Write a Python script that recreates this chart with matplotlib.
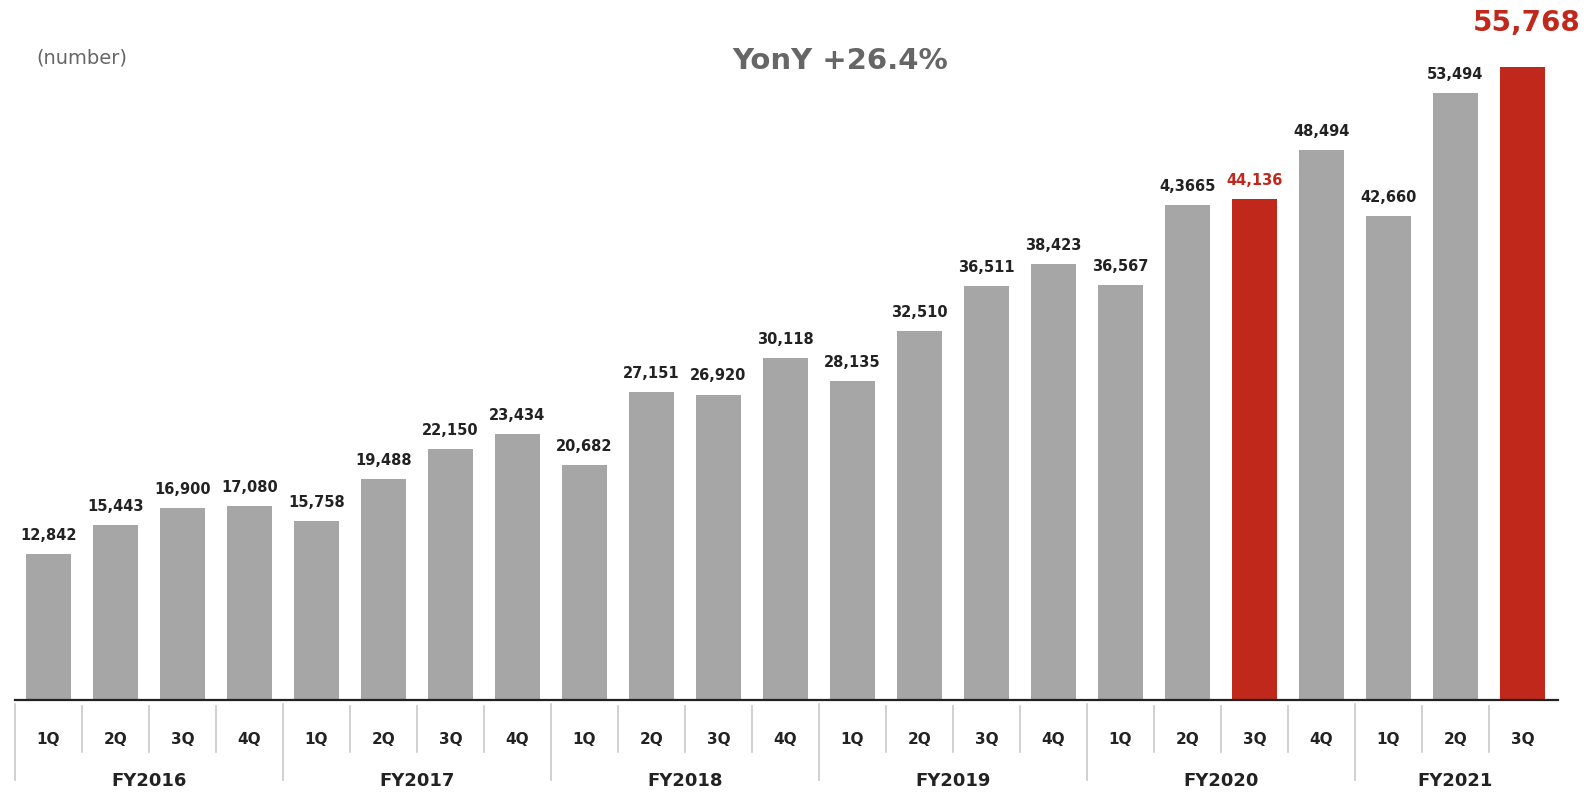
import matplotlib
matplotlib.use("Agg")
import matplotlib.pyplot as plt
import matplotlib.transforms as mtransforms

plt.rcParams['font.family'] = ['DejaVu Sans']

years = ["FY2016", "FY2017", "FY2018", "FY2019", "FY2020", "FY2021"]
quarters_per_year = [4, 4, 4, 4, 4, 3]
quarter_labels = ["1Q", "2Q", "3Q", "4Q"] * 5 + ["1Q", "2Q", "3Q"]
values = [12842, 15443, 16900, 17080,
          15758, 19488, 22150, 23434,
          20682, 27151, 26920, 30118,
          28135, 32510, 36511, 38423,
          36567, 43665, 44136, 48494,
          42660, 53494, 55768]
value_labels = ["12,842", "15,443", "16,900", "17,080",
                "15,758", "19,488", "22,150", "23,434",
                "20,682", "27,151", "26,920", "30,118",
                "28,135", "32,510", "36,511", "38,423",
                "36,567", "4,3665", "44,136", "48,494",
                "42,660", "53,494", "55,768"]
highlight = [18, 22]
title_text = "YonY +26.4%"
unit_text = "(number)"

GREY = "#a6a6a6"
RED = "#c0281c"
TEXT = "#222222"
SUB = "#666666"

W, H = 1586, 794
fig = plt.figure(figsize=(W / 100, H / 100), dpi=100)
left_px, right_px, base_px, top_px = 15, 1558, 700, 42
ax = fig.add_axes([left_px / W, 1 - base_px / H, (right_px - left_px) / W, (base_px - top_px) / H])

x = list(range(len(values)))
colors = [RED if i in highlight else GREY for i in x]
ax.bar(x, values, width=0.67, color=colors, zorder=2)
ax.set_xlim(-0.5, 22.53)
ax.set_ylim(0, 58000)

for spine in ["top", "right", "left"]:
    ax.spines[spine].set_visible(False)
ax.spines["bottom"].set_linewidth(1.6)
ax.spines["bottom"].set_color("#222222")
ax.set_xticks([])
ax.set_yticks([])

for i, (v, lab) in enumerate(zip(values, value_labels)):
    if i == len(values) - 1:
        ax.annotate(lab, xy=(i, v), xytext=(42, 22), textcoords="offset points",
                    ha="right", va="bottom", fontsize=20, fontweight="bold",
                    color=RED, annotation_clip=False)
    else:
        ax.annotate(lab, xy=(i, v), xytext=(0, 8), textcoords="offset points",
                    ha="center", va="bottom", fontsize=10.5, fontweight="bold",
                    color=RED if i in highlight else TEXT, annotation_clip=False)

trans = mtransforms.blended_transform_factory(ax.transData, fig.transFigure)

def fy(px):
    return 1 - px / H

start = 0
for yr, n in zip(years, quarters_per_year):
    ax.plot([start - 0.5, start - 0.5], [fy(704), fy(780)], transform=trans,
            color="#c8c8c8", lw=1.2, clip_on=False)
    for k in range(1, n):
        xs = start + k - 0.5
        ax.plot([xs, xs], [fy(706), fy(752)], transform=trans,
                color="#c8c8c8", lw=1.2, clip_on=False)
    ax.text(start + (n - 1) / 2, fy(781), yr, transform=trans, ha="center", va="center",
            fontsize=13, fontweight="bold", color=TEXT)
    start += n

for i, q in enumerate(quarter_labels):
    ax.text(i, fy(739), q, transform=trans, ha="center", va="center",
            fontsize=11, fontweight="bold", color=TEXT)

fig.text(840 / W, fy(61), title_text, ha="center", va="center",
         fontsize=21, fontweight="bold", color=SUB)
fig.text(36 / W, fy(58), unit_text, ha="left", va="center",
         fontsize=14, color=SUB)

fig.savefig("out.png", dpi=100, facecolor="white")
